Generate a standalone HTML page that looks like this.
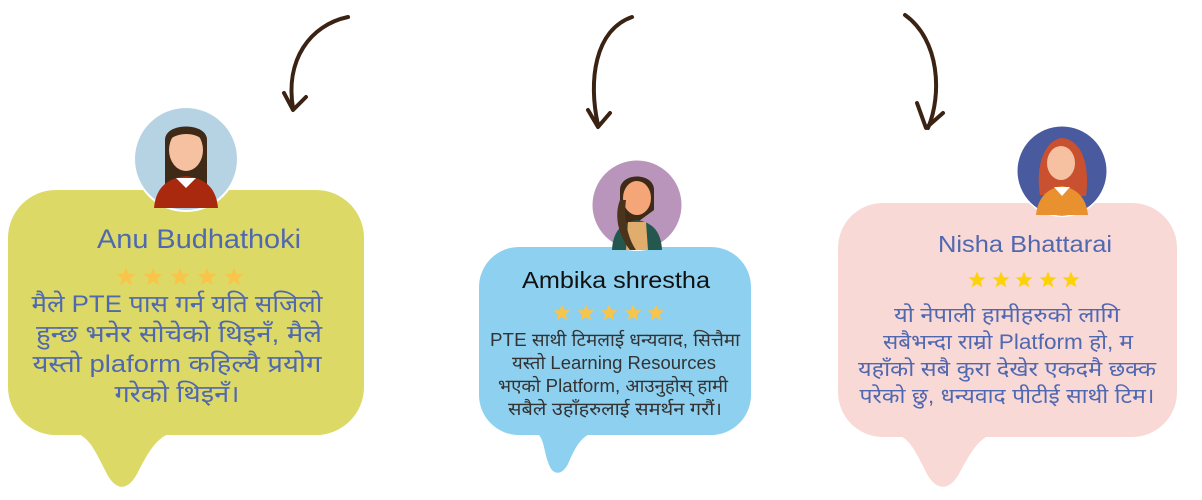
<!DOCTYPE html>
<html><head><meta charset="utf-8"><style>
html,body{margin:0;padding:0;background:#fff;width:1202px;height:500px;overflow:hidden}
svg text{font-family:"Liberation Sans","Noto Sans CJK SC",sans-serif}
</style></head><body>
<svg width="1202" height="500" viewBox="0 0 1202 500" xmlns="http://www.w3.org/2000/svg">
<defs>
<symbol id="star" viewBox="-10 -10 20 20"><polygon points="0,-9.5 2.6,-3.2 9.3,-2.9 4.1,1.5 5.8,8.1 0,4.4 -5.8,8.1 -4.1,1.5 -9.3,-2.9 -2.6,-3.2" /></symbol>
</defs>
<g fill="none" stroke="#3b2314" stroke-width="4" stroke-linecap="round" stroke-linejoin="round">
<path d="M348,17 C310,25 285,60 293,108"/>
<path d="M284,93 L293,110 L306,97"/>
<path d="M632,17 C595,30 588,80 598,125"/>
<path d="M588,110 L598,127 L610,113"/>
<path d="M905,15 C940,40 942,95 928,128"/>
<path d="M917,103 L926,128 L943,113"/>
</g>
<!-- bubble 1 -->
<g fill="#dcd966">
<rect x="8" y="190" width="356" height="245" rx="48"/>
<path d="M55,430 C85,430 90,440 105,470 C115,492 128,492 138,472 C152,445 160,432 185,430 Z"/>
</g>
<circle cx="186" cy="159" r="53" fill="#fff"/>
<circle cx="186" cy="159" r="51" fill="#b6d3e3"/>
<path d="M165,185 L165,140 C165,122 207,122 207,140 L207,185 Z" fill="#3e2a16"/>
<ellipse cx="186" cy="150" rx="17" ry="21" fill="#f6c1a0"/>
<path d="M169,140 C172,124 200,124 203,140 C195,132 178,132 169,140Z" fill="#3e2a16"/>
<path d="M154,208 C156,185 170,178 186,176 C202,178 216,185 218,208 Z" fill="#a8290e"/>
<path d="M176,178 L186,188 L196,178 Z" fill="#fff"/>
<text x="199" y="248" text-anchor="middle" font-size="27" fill="#5068b0" textLength="204" lengthAdjust="spacingAndGlyphs">Anu Budhathoki</text>
<g fill="#f9c44a"><use href="#star" x="116" y="267" width="20" height="20"/><use href="#star" x="143" y="267" width="20" height="20"/><use href="#star" x="170" y="267" width="20" height="20"/><use href="#star" x="197" y="267" width="20" height="20"/><use href="#star" x="224" y="267" width="20" height="20"/></g>
<g font-size="24" fill="#5068b0" text-anchor="middle" lengthAdjust="spacingAndGlyphs">
<text x="177" y="312" textLength="291" lengthAdjust="spacingAndGlyphs">मैले PTE पास गर्न यति सजिलो</text>
<text x="179" y="342" textLength="286" lengthAdjust="spacingAndGlyphs">हुन्छ भनेर सोचेको थिइनँ, मैले</text>
<text x="177" y="372" textLength="289" lengthAdjust="spacingAndGlyphs">यस्तो plaform कहिल्यै प्रयोग</text>
<text x="177" y="402" textLength="125" lengthAdjust="spacingAndGlyphs">गरेको थिइनँ।</text>
</g>
<!-- bubble 2 -->
<g fill="#8ed0f0">
<rect x="479" y="247" width="272" height="188" rx="40"/>
<path d="M525,430 C545,430 542,445 548,462 C552,476 562,476 568,464 C578,440 585,432 605,430 Z"/>
</g>
<circle cx="637" cy="205" r="46" fill="#fff"/>
<circle cx="637" cy="205" r="44.5" fill="#b995bb"/>
<path d="M620,235 L620,190 C620,172 654,172 654,190 L654,210 Z" fill="#3e2a16"/>
<ellipse cx="637" cy="198" rx="14" ry="17" fill="#f4a679"/>
<path d="M612,250 C613,228 625,222 637,220 C649,222 661,228 662,250 Z" fill="#24574e"/>
<path d="M628,222 L646,222 L648,250 L626,250 Z" fill="#e0ad6c"/>
<path d="M620,200 C614,215 618,235 630,250 L636,250 C626,235 624,215 626,200Z" fill="#4a341c"/>
<text x="616" y="288" text-anchor="middle" font-size="23" fill="#111" textLength="188" lengthAdjust="spacingAndGlyphs">Ambika shrestha</text>
<g fill="#f9c44a"><use href="#star" x="553" y="304" width="18" height="18"/><use href="#star" x="577" y="304" width="18" height="18"/><use href="#star" x="600" y="304" width="18" height="18"/><use href="#star" x="624" y="304" width="18" height="18"/><use href="#star" x="647" y="304" width="18" height="18"/></g>
<g font-size="18" fill="#333" text-anchor="middle">
<text x="615" y="346" textLength="250" lengthAdjust="spacingAndGlyphs">PTE साथी टिमलाई धन्यवाद, सित्तैमा</text>
<text x="614" y="369" textLength="204" lengthAdjust="spacingAndGlyphs">यस्तो Learning Resources</text>
<text x="613" y="392" textLength="230" lengthAdjust="spacingAndGlyphs">भएको Platform, आउनुहोस् हामी</text>
<text x="615" y="415" textLength="214" lengthAdjust="spacingAndGlyphs">सबैले उहाँहरुलाई समर्थन गरौं।</text>
</g>
<!-- bubble 3 -->
<g fill="#f9d9d6">
<rect x="838" y="203" width="339" height="234" rx="45"/>
<path d="M878,432 C905,432 910,440 925,470 C935,492 950,492 960,472 C972,450 980,436 998,432 Z"/>
</g>
<circle cx="1062" cy="171" r="46" fill="#fff"/>
<circle cx="1062" cy="171" r="44.5" fill="#4a5a9e"/>
<path d="M1040,195 C1035,165 1045,140 1062,138 C1082,140 1090,165 1086,196 Z" fill="#c9512f"/>
<ellipse cx="1061" cy="163" rx="14" ry="17" fill="#f6c1a0"/>
<path d="M1036,215 C1038,195 1050,188 1062,186 C1074,188 1086,195 1088,215 Z" fill="#e9902f"/>
<path d="M1054,187 L1062,196 L1070,187 Z" fill="#fff"/>
<text x="1025" y="252" text-anchor="middle" font-size="23" fill="#5068b0" textLength="174" lengthAdjust="spacingAndGlyphs">Nisha Bhattarai</text>
<g fill="#fcd20a"><use href="#star" x="968" y="271" width="18" height="18"/><use href="#star" x="992" y="271" width="18" height="18"/><use href="#star" x="1015" y="271" width="18" height="18"/><use href="#star" x="1039" y="271" width="18" height="18"/><use href="#star" x="1062" y="271" width="18" height="18"/></g>
<g font-size="21" fill="#5068b0" text-anchor="middle">
<text x="1007" y="322" textLength="226" lengthAdjust="spacingAndGlyphs">यो नेपाली हामीहरुको लागि</text>
<text x="1008" y="349" textLength="250" lengthAdjust="spacingAndGlyphs">सबैभन्दा राम्रो Platform हो, म</text>
<text x="1007" y="376" textLength="298" lengthAdjust="spacingAndGlyphs">यहाँको सबै कुरा देखेर एकदमै छक्क</text>
<text x="1007" y="403" textLength="295" lengthAdjust="spacingAndGlyphs">परेको छु, धन्यवाद पीटीई साथी टिम।</text>
</g>
</svg>
</body></html>
